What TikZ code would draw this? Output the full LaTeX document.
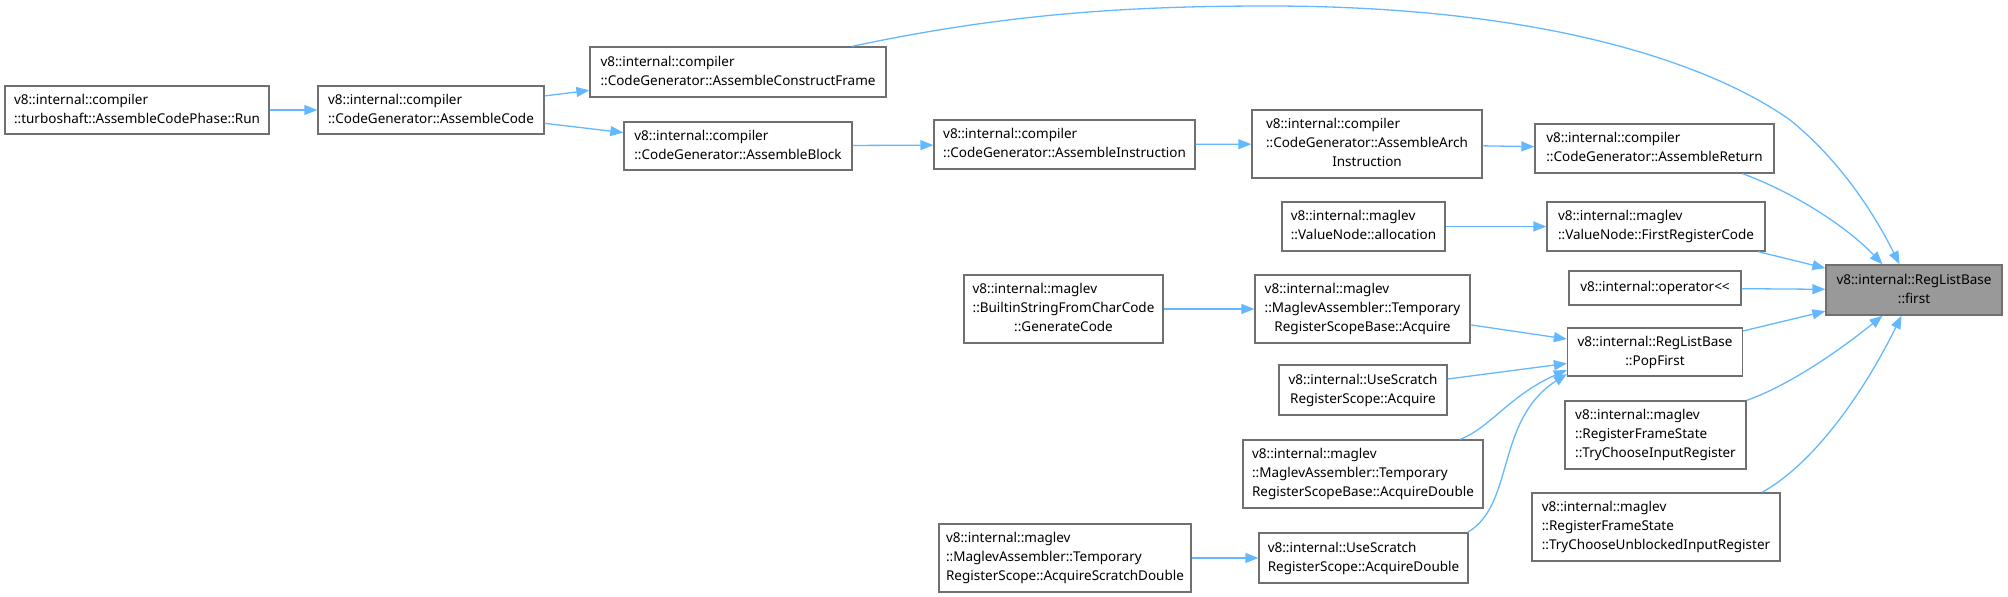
\documentclass[tikz,border=0pt]{standalone}
\usepackage{fontspec}
\setmainfont{Noto Sans}
\usetikzlibrary{arrows.meta}
\definecolor{edgec}{HTML}{63B8FF}
\definecolor{bord}{HTML}{707070}
\definecolor{hl}{HTML}{999999}
\newcommand{\twol}[2]{\begin{tabular}{@{}l@{}}#1\\\multicolumn{1}{@{}c@{}}{#2}\end{tabular}}
\newcommand{\threel}[3]{\begin{tabular}{@{}l@{}}#1\\#2\\\multicolumn{1}{@{}c@{}}{#3}\end{tabular}}
\tikzset{
  box/.style={draw=bord, line width=1.3pt, fill=white, inner sep=0pt, font=\fontsize{13.5}{19}\selectfont},
  e/.style={draw=edgec, line width=1.3pt, -{Triangle[length=13pt,width=10pt]}}
}
\begin{document}
\begin{tikzpicture}[x=1pt,y=-1pt]
\useasboundingbox (0,0) rectangle (2008,597);
% nodes
\node[box,minimum width=264pt,minimum height=48pt] (run) at (137,110) {\twol{v8::internal::compiler}{::turboshaft::AssembleCodePhase::Run}};
\node[box,minimum width=226pt,minimum height=48pt] (code) at (431,110) {\twol{v8::internal::compiler}{::CodeGenerator::AssembleCode}};
\node[box,minimum width=296pt,minimum height=50pt] (frame) at (738,72) {\twol{v8::internal::compiler}{::CodeGenerator::AssembleConstructFrame}};
\node[box,minimum width=228pt,minimum height=48pt] (block) at (738,146) {\twol{v8::internal::compiler}{::CodeGenerator::AssembleBlock}};
\node[box,minimum width=261pt,minimum height=49pt] (instr) at (1064.5,144.5) {\twol{v8::internal::compiler}{::CodeGenerator::AssembleInstruction}};
\node[box,minimum width=230pt,minimum height=68pt] (arch) at (1367,144) {\threel{v8::internal::compiler}{::CodeGenerator::AssembleArch}{Instruction}};
\node[box,minimum width=239pt,minimum height=49pt] (ret) at (1654.5,148.5) {\twol{v8::internal::compiler}{::CodeGenerator::AssembleReturn}};
\node[box,minimum width=163pt,minimum height=49pt] (alloc) at (1363.5,226.5) {\twol{v8::internal::maglev}{::ValueNode::allocation}};
\node[box,minimum width=218pt,minimum height=49pt] (frc) at (1656,226.5) {\twol{v8::internal::maglev}{::ValueNode::FirstRegisterCode}};
\node[box,fill=hl,minimum width=176pt,minimum height=50pt] (first) at (1914,290) {\twol{v8::internal::RegListBase}{::first}};
\node[box,minimum width=172pt,minimum height=34pt] (op) at (1655,288) {v8::internal::operator<\kern0pt<};
\node[box,minimum width=175pt,minimum height=48pt] (pop) at (1655,352) {\twol{v8::internal::RegListBase}{::PopFirst}};
\node[box,minimum width=199pt,minimum height=68pt] (builtin) at (1063.5,309) {\threel{v8::internal::maglev}{::BuiltinStringFromCharCode}{::GenerateCode}};
\node[box,minimum width=215pt,minimum height=68pt] (tacq) at (1362.5,309) {\threel{v8::internal::maglev}{::MaglevAssembler::Temporary}{RegisterScopeBase::Acquire}};
\node[box,minimum width=168pt,minimum height=50pt] (uacq) at (1363,390) {\twol{v8::internal::UseScratch}{RegisterScope::Acquire}};
\node[box,minimum width=240pt,minimum height=68pt] (tdbl) at (1363,474) {\threel{v8::internal::maglev}{::MaglevAssembler::Temporary}{RegisterScopeBase::AcquireDouble}};
\node[box,minimum width=181pt,minimum height=68pt] (tcir) at (1655.5,435) {\threel{v8::internal::maglev}{::RegisterFrameState}{::TryChooseInputRegister}};
\node[box,minimum width=248pt,minimum height=68pt] (tcuir) at (1656,527) {\threel{v8::internal::maglev}{::RegisterFrameState}{::TryChooseUnblockedInputRegister}};
\node[box,minimum width=252pt,minimum height=68pt] (scratch) at (1065,558) {\threel{v8::internal::maglev}{::MaglevAssembler::Temporary}{RegisterScope::AcquireScratchDouble}};
\node[box,minimum width=209pt,minimum height=50pt] (udbl) at (1363.5,558) {\twol{v8::internal::UseScratch}{RegisterScope::AcquireDouble}};
% straight edges
\draw[e] (run) -- (code);
\draw[e] (code) -- (frame);
\draw[e] (code) -- (block);
\draw[e] (block) -- (instr);
\draw[e] (instr) -- (arch);
\draw[e] (arch) -- (ret);
\draw[e] (alloc) -- (frc);
\draw[e] (frc) -- (first);
\draw[e] (op) -- (first);
\draw[e] (pop) -- (first);
\draw[e] (builtin) -- (tacq);
\draw[e] (tacq) -- (pop);
\draw[e] (uacq) -- (pop);
\draw[e] (scratch) -- (udbl);
% curved edges
\draw[e] ([xshift=114pt]frame.north) .. controls (1000,15) and (1120,6) .. (1268,6)
  .. controls (1560,6) and (1720,70) .. (1790,120)
  .. controls (1840,160) and (1875,215) .. ([xshift=-14.5pt]first.north);
\draw[e] ([xshift=88pt]ret.south) .. controls (1800,195) and (1850,230) .. ([xshift=-31.5pt]first.north);
\draw[e] (tcir.north east) .. controls (1790,385) and (1840,350) .. ([xshift=-31.5pt]first.south);
\draw[e] ([xshift=106pt]tcuir.north) .. controls (1820,460) and (1870,380) .. ([xshift=-12.5pt]first.south);
\draw[e] ([xshift=97pt]tdbl.north) .. controls (1490,428) and (1510,395) .. ([yshift=-18pt]pop.west);
\draw[e] ([xshift=104pt]udbl.north) .. controls (1515,505) and (1495,420) .. ([yshift=-22pt]pop.west);
\end{tikzpicture}
\end{document}
